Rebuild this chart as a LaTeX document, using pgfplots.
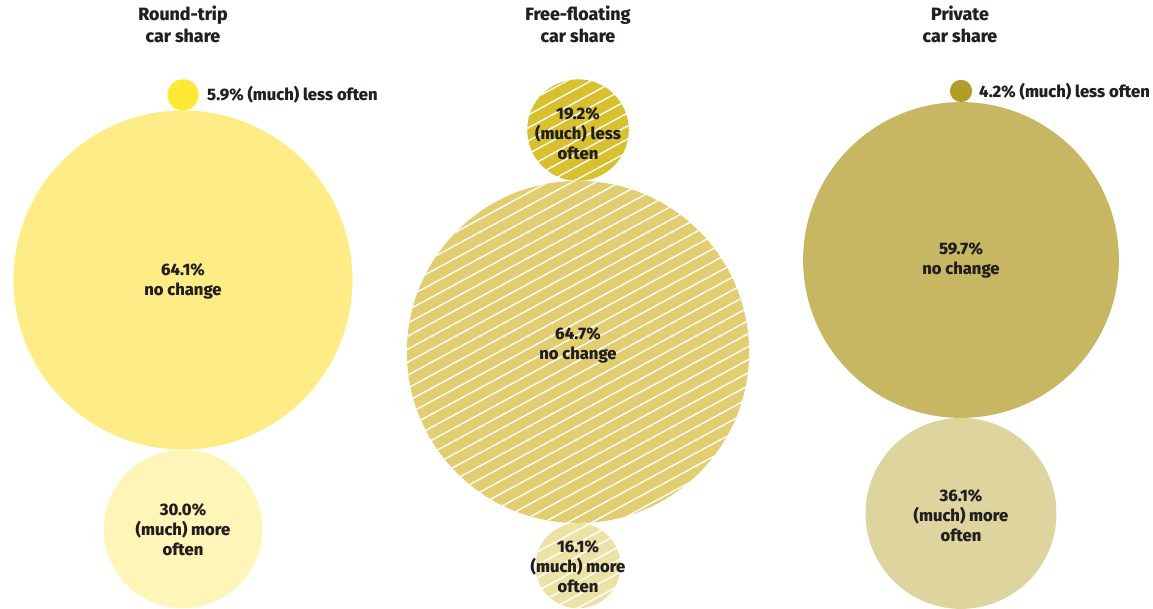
\documentclass[border=0pt]{standalone}
\usepackage{pgfplots}
\pgfplotsset{compat=1.18}
\usepackage{fontspec}
\setmainfont{Fira Sans}[BoldFont={Fira Sans ExtraBold}]

\definecolor{txt}{HTML}{231F20}
\definecolor{rtA}{HTML}{FFE935}
\definecolor{rtB}{HTML}{FEED86}
\definecolor{rtC}{HTML}{FFF5B8}
\definecolor{ffA}{HTML}{D9C02E}
\definecolor{ffB}{HTML}{E2CE70}
\definecolor{ffC}{HTML}{ECE2A5}
\definecolor{pcA}{HTML}{B09D23}
\definecolor{pcB}{HTML}{C8B762}
\definecolor{pcC}{HTML}{DED49E}

% white diagonal hatch (about 29 degrees, 11.4pt apart)
\pgfdeclarepatternformonly{hatch}{\pgfpoint{-1pt}{-1pt}}{\pgfpoint{25pt}{14pt}}{\pgfpoint{24pt}{13pt}}{%
  \pgfsetlinewidth{1.35pt}%
  \pgfpathmoveto{\pgfpoint{-2pt}{-1.0833pt}}%
  \pgfpathlineto{\pgfpoint{26pt}{14.0833pt}}%
  \pgfusepathqstroke}
\pgfdeclareplotmark{disc}{%
  \pgfpathcircle{\pgfpointorigin}{\pgfplotmarksize}%
  \pgfusepathqfill}
\pgfdeclareplotmark{hatchdisc}{%
  \pgfpathcircle{\pgfpointorigin}{\pgfplotmarksize}%
  \pgfsetfillpattern{hatch}{white}%
  \pgfusepathqfill}

\def\radk{2.645}
\newcommand{\bubble}[4]{%
  \addplot[only marks, mark=disc, mark size={\radk*#3}, color=#4, fill=#4] coordinates {(#1,#2)};}
\newcommand{\hatchbubble}[3]{%
  \addplot[only marks, mark=hatchdisc, mark size={\radk*#3}] coordinates {(#1,#2)};}

\begin{document}
\begin{tikzpicture}
\begin{axis}[
  width=1153pt, height=609pt, scale only axis,
  xmin=0, xmax=1153, ymin=0, ymax=609, y dir=reverse,
  hide axis, clip=false,
  after end axis/.code={%
    \begin{scope}[every node/.style={text=txt, font=\bfseries\fontsize{16.6}{20}\selectfont, align=center, inner sep=0pt}]
    \node[font=\bfseries\fontsize{17.8}{22}\selectfont] at (axis cs:183,24.5) {Round-trip\\car share};
    \node[font=\bfseries\fontsize{17.8}{22}\selectfont] at (axis cs:578,24.5) {Free-floating\\car share};
    \node[font=\bfseries\fontsize{17.8}{22}\selectfont] at (axis cs:960,24.5) {Private\\car share};
    \node[anchor=west] at (axis cs:207,95) {5.9\% (much) less often};
    \node at (axis cs:183,281) {64.1\%\\no change};
    \node at (axis cs:183,530) {30.0\%\\(much) more\\often};
    \node at (axis cs:578,133.5) {19.2\%\\(much) less\\often};
    \node at (axis cs:578,345) {64.7\%\\no change};
    \node at (axis cs:578,567) {16.1\%\\(much) more\\often};
    \node[anchor=west] at (axis cs:979,92) {4.2\% (much) less often};
    \node at (axis cs:961,260) {59.7\%\\no change};
    \node at (axis cs:961,516) {36.1\%\\(much) more\\often};
    \end{scope}
  },
]
% Round-trip car share
\bubble{183}{94.9}{5.9}{rtA}
\bubble{183}{280}{64.1}{rtB}
\bubble{183}{528.9}{30.0}{rtC}
% Free-floating car share
\bubble{578}{130.1}{19.2}{ffA}
\hatchbubble{578}{130.1}{19.2}
\bubble{578}{352}{64.7}{ffB}
\hatchbubble{578}{352}{64.7}
\bubble{578}{565.7}{16.1}{ffC}
\hatchbubble{578}{565.7}{16.1}
% Private car share
\bubble{961}{91}{4.2}{pcA}
\bubble{961}{260}{59.7}{pcB}
\bubble{961}{513.4}{36.1}{pcC}
\end{axis}
\pgfresetboundingbox
\path (current axis.south west) rectangle (current axis.north east);
\end{tikzpicture}
\end{document}
